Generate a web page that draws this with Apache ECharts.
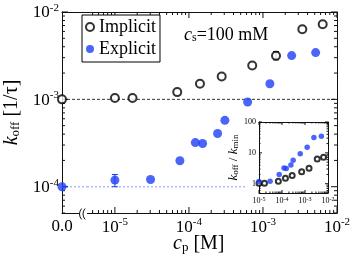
<!DOCTYPE html>
<html><head><meta charset="utf-8">
<script src="https://cdn.jsdelivr.net/npm/echarts@6/dist/echarts.min.js"></script>
<style>html,body{margin:0;padding:0;background:#fff}#c{width:354px;height:267px}</style>
</head><body><div id="c"></div>
<script>
// ---------- data ----------
const implicitZero = [1.0e-3];              // value at c_p = 0
const explicitZero = [1.0e-4];
const implicitX = [1.0e-5, 1.73e-5, 6.95e-5, 1.41e-4, 2.77e-4, 7.16e-4, 1.50e-3, 3.40e-3, 6.41e-3];
const implicitY = [1.035e-3, 1.035e-3, 1.21e-3, 1.51e-3, 1.83e-3, 2.44e-3, 3.15e-3, 6.35e-3, 7.24e-3];
const explicitX = [1.0e-5, 3.03e-5, 7.55e-5, 1.22e-4, 1.53e-4, 2.44e-4, 3.06e-4, 6.21e-4, 1.24e-3, 2.44e-3, 5.15e-3];
const explicitY = [1.19e-4, 1.21e-4, 1.98e-4, 3.20e-4, 3.12e-4, 4.06e-4, 5.75e-4, 9.33e-4, 1.51e-3, 3.17e-3, 3.43e-3];
const implicitErr = [[1.50e-3, 2.83e-3, 3.52e-3]];   // [x, low, high]
const explicitErr = [[1.0e-5, 1.0e-4, 1.38e-4]];
const blueRefEnd = [6.1e-4];
// inset: k_off / k_min
const insetImplicitX = [1.0e-5, 1.73e-5, 6.95e-5, 1.41e-4, 2.77e-4, 7.16e-4, 1.50e-3, 3.40e-3, 6.41e-3];
const insetImplicitY = [1.04, 1.04, 1.21, 1.51, 1.83, 2.44, 3.15, 6.35, 7.24];
const insetExplicitX = [1.0e-5, 3.03e-5, 7.55e-5, 1.22e-4, 1.53e-4, 2.44e-4, 3.06e-4, 6.21e-4, 1.24e-3, 2.44e-3, 5.15e-3];
const insetExplicitY = [1.19, 1.21, 1.98, 3.20, 3.12, 4.06, 5.75, 9.33, 15.1, 31.7, 34.3];
// axis ranges / tick labels
const Y_MIN = 5e-5, Y_MAX = 1e-2;
const X1_MIN = 4.2e-6, X1_MAX = 1e-2;
const IX_MIN = 1e-5, IX_MAX = 1e-2, IY_MIN = 0.5, IY_MAX = 100;
const zeroLabel = '0.0';
const insetYLabels = ['1', '10', '100'];

// ---------- helpers ----------
const FONT = 'Liberation Serif';
const BLUE = '#1f3ff8';
const INK = '#111';
const zip = (a, b) => a.map((v, i) => [v, b[i]]);
function logTicks(min, max) {
  const out = [];
  for (let e = Math.floor(Math.log10(min)) - 1; e <= Math.ceil(Math.log10(max)); e++)
    for (let m = 1; m <= 9; m++) {
      const v = m * Math.pow(10, e);
      if (v >= min * 0.9999 && v <= max * 1.0001) out.push([v, m === 1 ? 1 : 0]);
    }
  return out;
}
function powLabel(v) {
  const l = Math.log10(v), e = Math.round(l);
  return Math.abs(l - e) < 1e-6 ? '{b|10}{s|' + e + '}' : '';
}
const richMain = {
  b: {fontFamily: FONT, fontSize: 17, color: '#000', lineHeight: 19, verticalAlign: 'bottom'},
  s: {fontFamily: FONT, fontSize: 11, color: '#000', lineHeight: 11, verticalAlign: 'top'}
};
const richInset = {
  b: {fontFamily: FONT, fontSize: 8, color: '#000', lineHeight: 9, verticalAlign: 'bottom'},
  s: {fontFamily: FONT, fontSize: 6, color: '#000', lineHeight: 6, verticalAlign: 'top'}
};
const line = (x1, y1, x2, y2, w) => ({type: 'line', shape: {x1, y1, x2, y2}, style: {stroke: INK, lineWidth: w || 1}});

function xTickSeries(xi, yi, ticks, yMin, yMax, majL, minL, z) {
  return {
    type: 'custom', xAxisIndex: xi, yAxisIndex: yi, silent: true, clip: false, z: z || 3,
    data: ticks.map(t => [t[0], yMax, t[1]]),
    renderItem: (p, api) => {
      const v = api.value(0), L = api.value(2) ? majL : minL;
      const b = api.coord([v, yMin]), t = api.coord([v, yMax]);
      return {type: 'group', children: [line(b[0], b[1], b[0], b[1] - L), line(t[0], t[1], t[0], t[1] + L)]};
    }
  };
}
function yTickSeries(xi, yi, ticks, xLeft, xRight, majL, minL, sides, z) {
  return {
    type: 'custom', xAxisIndex: xi, yAxisIndex: yi, silent: true, clip: false, z: z || 3,
    data: ticks.map(t => [xLeft, t[0], t[1]]),
    renderItem: (p, api) => {
      const v = api.value(1), L = api.value(2) ? majL : minL;
      const l = api.coord([xLeft, v]), r = api.coord([xRight, v]);
      const ch = [];
      if (sides !== 'right') ch.push(line(l[0], l[1], l[0] + L, l[1]));
      if (sides !== 'left') ch.push(line(r[0], r[1], r[0] - L, r[1]));
      return {type: 'group', children: ch};
    }
  };
}
function errSeries(xi, yi, data, color, cap) {
  return {
    type: 'custom', xAxisIndex: xi, yAxisIndex: yi, silent: true, clip: false, z: 3,
    encode: {x: 0, y: [1, 2]}, data: data,
    renderItem: (p, api) => {
      const lo = api.coord([api.value(0), api.value(1)]), hi = api.coord([api.value(0), api.value(2)]);
      const st = {stroke: color, lineWidth: 1};
      return {type: 'group', children: [
        {type: 'line', shape: {x1: lo[0], y1: lo[1], x2: hi[0], y2: hi[1]}, style: st},
        {type: 'line', shape: {x1: lo[0] - cap, y1: lo[1], x2: lo[0] + cap, y2: lo[1]}, style: st},
        {type: 'line', shape: {x1: hi[0] - cap, y1: hi[1], x2: hi[0] + cap, y2: hi[1]}, style: st}
      ]};
    }
  };
}
const axLine = {show: true, onZero: false, lineStyle: {color: INK, width: 1}};
const noTick = {show: false};
const noSplit = {show: false};

const chart = echarts.init(document.getElementById('c'), null, {renderer: 'canvas'});
const option = {
  animation: false,
  grid: [
    {left: 62, top: 12, width: 25, height: 201, outerBoundsMode: 'none'},
    {left: 87, top: 12, width: 250, height: 201, outerBoundsMode: 'none'},
    {left: 259, top: 122, width: 69, height: 71, show: true, backgroundColor: '#fff', borderWidth: 0, z: 10, outerBoundsMode: 'none'}
  ],
  xAxis: [
    {gridIndex: 0, type: 'value', min: 0, max: 1, interval: 1, position: 'bottom', axisLine: axLine, axisTick: noTick, splitLine: noSplit,
      axisLabel: {formatter: v => (v === 0 ? zeroLabel : ''), margin: 5, fontFamily: FONT, fontSize: 17, color: '#000'}},
    {gridIndex: 1, type: 'log', min: X1_MIN, max: X1_MAX, position: 'bottom', axisLine: axLine, axisTick: noTick, splitLine: noSplit,
      axisLabel: {formatter: powLabel, rich: richMain, margin: 4}},
    {gridIndex: 0, type: 'value', min: 0, max: 1, position: 'top', axisLine: axLine, axisTick: noTick, splitLine: noSplit, axisLabel: {show: false}},
    {gridIndex: 1, type: 'log', min: X1_MIN, max: X1_MAX, position: 'top', axisLine: axLine, axisTick: noTick, splitLine: noSplit, axisLabel: {show: false}},
    {gridIndex: 2, type: 'log', min: IX_MIN, max: IX_MAX, position: 'bottom', z: 11, axisLine: axLine, axisTick: noTick, splitLine: noSplit,
      axisLabel: {formatter: powLabel, rich: richInset, margin: 3}},
    {gridIndex: 2, type: 'log', min: IX_MIN, max: IX_MAX, position: 'top', z: 11, axisLine: axLine, axisTick: noTick, splitLine: noSplit, axisLabel: {show: false}}
  ],
  yAxis: [
    {gridIndex: 0, type: 'log', min: Y_MIN, max: Y_MAX, position: 'left', axisLine: axLine, axisTick: noTick, splitLine: noSplit,
      axisLabel: {formatter: powLabel, rich: richMain, margin: 3},
      name: '{i|k}{s|off}{n| [1/τ]}', nameLocation: 'middle', nameRotate: 90, nameGap: 40,
      nameTextStyle: {rich: {
        i: {fontFamily: FONT, fontSize: 20, fontStyle: 'italic', color: '#000', lineHeight: 24, verticalAlign: 'bottom'},
        s: {fontFamily: FONT, fontSize: 13, color: '#000', lineHeight: 13, verticalAlign: 'bottom'},
        n: {fontFamily: FONT, fontSize: 20, color: '#000', lineHeight: 24, verticalAlign: 'bottom'}}}},
    {gridIndex: 1, type: 'log', min: Y_MIN, max: Y_MAX, position: 'right', axisLine: axLine, axisTick: noTick, splitLine: noSplit, axisLabel: {show: false}},
    {gridIndex: 2, type: 'log', min: IY_MIN, max: IY_MAX, position: 'left', z: 11, axisLine: axLine, axisTick: noTick, splitLine: noSplit,
      axisLabel: {formatter: v => { const s = String(Math.round(v)); return insetYLabels.indexOf(s) >= 0 && Math.abs(v - Math.round(v)) < 1e-6 ? s : ''; },
        fontFamily: FONT, fontSize: 8, color: '#000', margin: 3},
      name: '{i|k}{s|off}{n| / }{i|k}{s|min}', nameLocation: 'middle', nameRotate: 90, nameGap: 15,
      nameTextStyle: {rich: {
        i: {fontFamily: FONT, fontSize: 13, fontStyle: 'italic', color: '#000', lineHeight: 16, verticalAlign: 'bottom'},
        s: {fontFamily: FONT, fontSize: 9, color: '#000', lineHeight: 9, verticalAlign: 'bottom'},
        n: {fontFamily: FONT, fontSize: 13, color: '#000', lineHeight: 16, verticalAlign: 'bottom'}}}},
    {gridIndex: 2, type: 'log', min: IY_MIN, max: IY_MAX, position: 'right', z: 11, axisLine: axLine, axisTick: noTick, splitLine: noSplit, axisLabel: {show: false}}
  ],
  legend: {
    left: 82, top: 15, orient: 'vertical', itemWidth: 8, itemHeight: 8, itemGap: 2, selectedMode: false,
    padding: [2, 4, 3, 3], borderColor: '#000', borderWidth: 1, backgroundColor: '#fff',
    textStyle: {fontFamily: FONT, fontSize: 18, color: '#000', lineHeight: 20},
    data: [{name: 'Implicit', icon: 'emptyCircle'}, {name: 'Explicit', icon: 'circle'}]
  },
  graphic: [
    {type: 'text', left: 184, top: 26, style: {text: '{i|c}{s|s}{n|=100 mM}', rich: {
      i: {fontFamily: FONT, fontSize: 18, fontStyle: 'italic', fill: '#000', lineHeight: 20, verticalAlign: 'bottom'},
      s: {fontFamily: FONT, fontSize: 12, fill: '#000', lineHeight: 12, verticalAlign: 'bottom'},
      n: {fontFamily: FONT, fontSize: 18, fill: '#000', lineHeight: 20, verticalAlign: 'bottom'}}}},
    {type: 'text', left: 173, top: 234, style: {text: '{i|c}{s|p}{n| [M]}', rich: {
      i: {fontFamily: FONT, fontSize: 20, fontStyle: 'italic', fill: '#000', lineHeight: 22, verticalAlign: 'bottom'},
      s: {fontFamily: FONT, fontSize: 13, fill: '#000', lineHeight: 13, verticalAlign: 'bottom'},
      n: {fontFamily: FONT, fontSize: 20, fill: '#000', lineHeight: 22, verticalAlign: 'bottom'}}}}
  ],
  series: [
    // reference lines at the c_p = 0 values
    {type: 'line', xAxisIndex: 0, yAxisIndex: 0, silent: true, showSymbol: false, z: 1,
      data: [[0, implicitZero[0]], [1, implicitZero[0]]], lineStyle: {color: '#333', width: 1, type: [3, 2]}},
    {type: 'line', xAxisIndex: 1, yAxisIndex: 1, silent: true, showSymbol: false, z: 1,
      data: [[X1_MIN, implicitZero[0]], [X1_MAX, implicitZero[0]]], lineStyle: {color: '#333', width: 1, type: [3, 2]}},
    {type: 'line', xAxisIndex: 0, yAxisIndex: 0, silent: true, showSymbol: false, z: 1,
      data: [[0, explicitZero[0]], [1, explicitZero[0]]], lineStyle: {color: '#a9b8ff', width: 1.5, type: [2, 2]}},
    {type: 'line', xAxisIndex: 1, yAxisIndex: 1, silent: true, showSymbol: false, z: 1,
      data: [[X1_MIN, explicitZero[0]], [blueRefEnd[0], explicitZero[0]]], lineStyle: {color: '#a9b8ff', width: 1.5, type: [2, 2]}},
    // ticks
    yTickSeries(0, 0, logTicks(Y_MIN, Y_MAX), 0, 1, 6, 3, 'left'),
    yTickSeries(1, 1, logTicks(Y_MIN, Y_MAX), X1_MIN, X1_MAX, 6, 3, 'right'),
    xTickSeries(1, 1, logTicks(X1_MIN, X1_MAX), Y_MIN, Y_MAX, 6, 3),
    xTickSeries(4, 2, logTicks(IX_MIN, IX_MAX), IY_MIN, IY_MAX, 3, 1.5, 12),
    yTickSeries(4, 2, logTicks(IY_MIN, IY_MAX), IX_MIN, IX_MAX, 3, 1.5, 'both', 12),
    // axis break mark
    {type: 'custom', xAxisIndex: 0, yAxisIndex: 0, silent: true, clip: false, z: 4, data: [[1, Y_MIN]],
      renderItem: (p, api) => {
        const c = api.coord([1, Y_MIN]);
        return {type: 'group', children: [
          {type: 'rect', shape: {x: c[0] - 8, y: c[1] - 2, width: 8, height: 4}, style: {fill: '#fff'}},
          {type: 'arc', shape: {cx: c[0] + 0.5, cy: c[1] + 1, r: 8, startAngle: Math.PI - 0.75, endAngle: Math.PI + 0.75}, style: {stroke: INK, fill: null, lineWidth: 1}},
          {type: 'arc', shape: {cx: c[0] + 4, cy: c[1] + 1, r: 8, startAngle: Math.PI - 0.75, endAngle: Math.PI + 0.75}, style: {stroke: INK, fill: null, lineWidth: 1}}
        ]};
      }},
    // error bars
    errSeries(1, 1, implicitErr, INK, 3),
    errSeries(1, 1, explicitErr, BLUE, 3),
    // main data
    {name: 'Implicit', type: 'scatter', xAxisIndex: 0, yAxisIndex: 0, clip: false, z: 5, symbol: 'emptyCircle', symbolSize: 8,
      itemStyle: {color: '#000', borderWidth: 1.3}, data: [[0, implicitZero[0]]]},
    {name: 'Explicit', type: 'scatter', xAxisIndex: 0, yAxisIndex: 0, clip: false, z: 5, symbol: 'circle', symbolSize: 9,
      itemStyle: {color: BLUE}, data: [[0, explicitZero[0]]]},
    {name: 'Implicit', type: 'scatter', xAxisIndex: 1, yAxisIndex: 1, clip: false, z: 5, symbol: 'emptyCircle', symbolSize: 8,
      itemStyle: {color: '#000', borderWidth: 1.3}, data: zip(implicitX, implicitY)},
    {name: 'Explicit', type: 'scatter', xAxisIndex: 1, yAxisIndex: 1, clip: false, z: 5, symbol: 'circle', symbolSize: 9,
      itemStyle: {color: BLUE}, data: zip(explicitX, explicitY)},
    // inset
    {name: 'Implicit', type: 'scatter', xAxisIndex: 4, yAxisIndex: 2, clip: false, z: 13, symbol: 'emptyCircle', symbolSize: 5,
      itemStyle: {color: '#000', borderWidth: 1}, data: zip(insetImplicitX, insetImplicitY)},
    {name: 'Explicit', type: 'scatter', xAxisIndex: 4, yAxisIndex: 2, clip: false, z: 13, symbol: 'circle', symbolSize: 5.5,
      itemStyle: {color: BLUE}, data: zip(insetExplicitX, insetExplicitY)}
  ]
};
chart.setOption(option);
</script>
</body></html>
